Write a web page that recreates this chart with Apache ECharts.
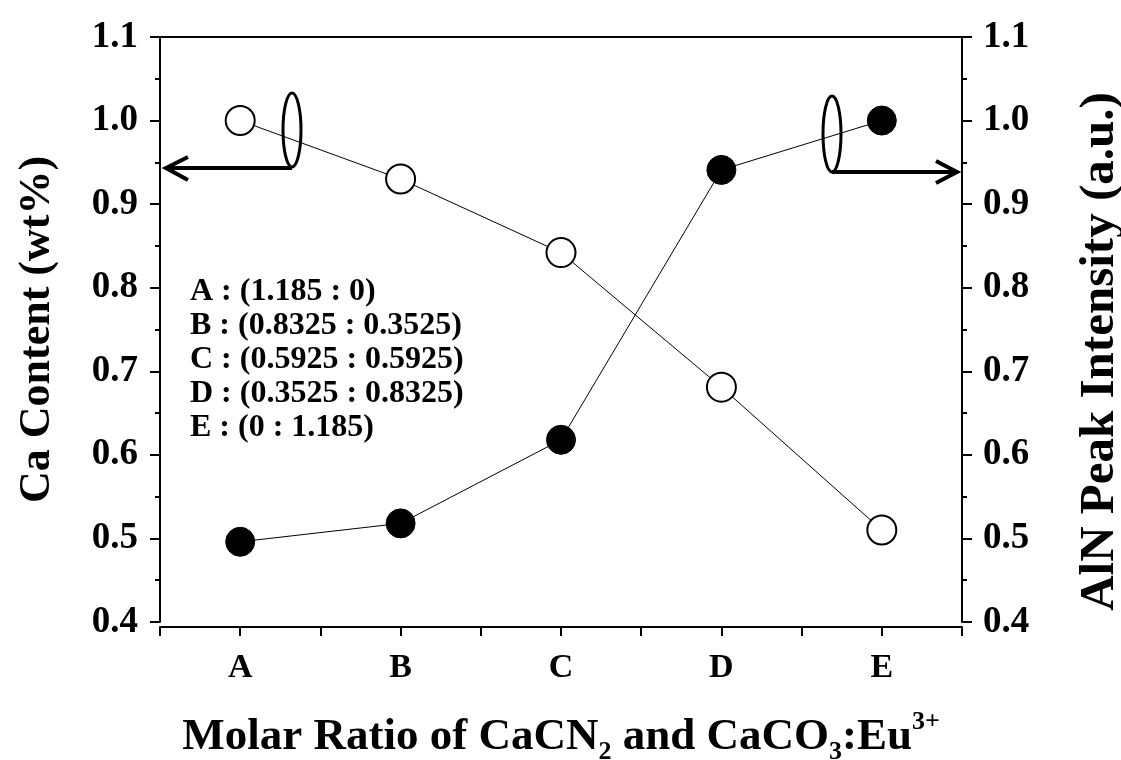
<!DOCTYPE html>
<html>
<head>
<meta charset="utf-8">
<script src="https://cdn.jsdelivr.net/npm/echarts@6.0.0/dist/echarts.min.js"></script>
<style>
html, body { margin: 0; padding: 0; background: #fff; }
#main { width: 1121px; height: 760px; }
</style>
</head>
<body>
<div id="main"></div>
<script>
// 数据
var categories = ['A', 'B', 'C', 'D', 'E'];
var caContent = [1.0, 0.93, 0.842, 0.681, 0.51];        // 左轴，空心圆
var alnIntensity = [0.496, 0.518, 0.618, 0.941, 1.0];   // 右轴，实心圆
var yMin = 0.4, yMax = 1.1, yStep = 0.1;
var ratioNotes = [
	'A : (1.185 : 0)',
	'B : (0.8325 : 0.3525)',
	'C : (0.5925 : 0.5925)',
	'D : (0.3525 : 0.8325)',
	'E : (0 : 1.185)'
];

var FONT = '"Liberation Serif", "Times New Roman", serif';

function toPairs(arr) {
	var out = [];
	for (var i = 0; i < arr.length; i++) {
		out.push([i + 1, arr[i]]);
	}
	return out;
}

function yAxisCfg(pos, name, nameSize, gap, labelMargin, namePad) {
	return {
		type: 'value',
		position: pos,
		min: yMin,
		max: yMax,
		interval: yStep,
		name: name,
		nameLocation: 'middle',
		nameRotate: 90,
		nameGap: gap,
		nameTextStyle: { fontFamily: FONT, fontWeight: 'bold', fontSize: nameSize, color: '#000', padding: namePad },
		axisLine: { show: true, lineStyle: { color: '#000', width: 2 } },
		axisTick: { show: true, inside: false, length: 10, lineStyle: { color: '#000', width: 2 } },
		minorTick: { show: true, splitNumber: 2, length: 5, lineStyle: { color: '#000', width: 2 } },
		splitLine: { show: false },
		axisLabel: {
			margin: labelMargin,
			fontFamily: FONT, fontWeight: 'bold', fontSize: 37, color: '#000',
			formatter: function (v) { return v.toFixed(1); }
		}
	};
}

var chart = echarts.init(document.getElementById('main'));

var option = {
	backgroundColor: '#fff',
	animation: false,
	grid: { left: 160, right: 159, top: 37, bottom: 138, containLabel: false, outerBoundsMode: 'none' },
	xAxis: [
		{
			type: 'value',
			position: 'bottom',
			min: 0.5,
			max: 5.5,
			interval: 0.5,
			offset: 5,
			name: '{t|Molar Ratio of CaCN}{sub|2}{t| and CaCO}{sub|3}{t|:Eu}{sup|3+}',
			nameLocation: 'middle',
			nameGap: 82,
			nameTextStyle: {
				color: '#000',
				rich: {
					t: { fontFamily: FONT, fontWeight: 'bold', fontSize: 45, lineHeight: 56, color: '#000' },
					sub: { fontFamily: FONT, fontWeight: 'bold', fontSize: 26, lineHeight: 40, verticalAlign: 'bottom', color: '#000' },
					sup: { fontFamily: FONT, fontWeight: 'bold', fontSize: 26, lineHeight: 34, verticalAlign: 'top', color: '#000' }
				}
			},
			axisLine: { show: true, lineStyle: { color: '#000', width: 2 } },
			axisTick: { show: true, inside: false, length: 9, lineStyle: { color: '#000', width: 2 } },
			splitLine: { show: false },
			axisLabel: {
				margin: 24,
				fontFamily: FONT, fontWeight: 'bold', fontSize: 34, color: '#000',
				formatter: function (v) {
					var r = Math.round(v);
					if (Math.abs(v - r) < 1e-6 && r >= 1 && r <= categories.length) {
						return categories[r - 1];
					}
					return '';
				}
			}
		},
		{
			// 顶部边框
			type: 'value',
			position: 'top',
			min: 0.5,
			max: 5.5,
			axisLine: { show: true, lineStyle: { color: '#000', width: 2 } },
			axisTick: { show: false },
			axisLabel: { show: false },
			splitLine: { show: false }
		}
	],
	yAxis: [
		yAxisCfg('left', 'Ca Content (wt%)', 44, 100, 22, [0, 0, 0, 0]),
		yAxisCfg('right', 'AlN Peak Intensity (a.u.)', 49, 114, 21, [0, 44, 0, 0])
	],
	series: [
		{
			name: 'Ca Content',
			type: 'line',
			xAxisIndex: 0,
			yAxisIndex: 0,
			data: toPairs(caContent),
			symbol: 'circle',
			symbolSize: 29,
			lineStyle: { color: '#000', width: 1 },
			itemStyle: { color: '#fff', borderColor: '#000', borderWidth: 2 },
			z: 3
		},
		{
			name: 'AlN Peak Intensity',
			type: 'line',
			xAxisIndex: 0,
			yAxisIndex: 1,
			data: toPairs(alnIntensity),
			symbol: 'circle',
			symbolSize: 29,
			lineStyle: { color: '#000', width: 1 },
			itemStyle: { color: '#000', borderColor: '#000', borderWidth: 1 },
			z: 3
		}
	],
	graphic: [
		{
			type: 'text',
			x: 190,
			y: 275,
			z: 10,
			style: {
				text: ratioNotes.join('\n'),
				fontFamily: FONT,
				fontWeight: 'bold',
				fontSize: 32,
				lineHeight: 34,
				fill: '#000'
			}
		},
		// 左侧标记：椭圆 + 箭头
		{ type: 'ellipse', z: 10, shape: { cx: 292, cy: 130, rx: 9, ry: 37 }, style: { fill: 'none', stroke: '#000', lineWidth: 3 } },
		{ type: 'line', z: 10, shape: { x1: 292, y1: 168, x2: 166, y2: 168 }, style: { stroke: '#000', lineWidth: 4 } },
		{ type: 'polyline', z: 10, shape: { points: [[188, 157], [166, 168], [188, 180]] }, style: { fill: 'none', stroke: '#000', lineWidth: 4 } },
		// 右侧标记
		{ type: 'ellipse', z: 10, shape: { cx: 832, cy: 134, rx: 9, ry: 38 }, style: { fill: 'none', stroke: '#000', lineWidth: 3 } },
		{ type: 'line', z: 10, shape: { x1: 832, y1: 172, x2: 957, y2: 172 }, style: { stroke: '#000', lineWidth: 4 } },
		{ type: 'polyline', z: 10, shape: { points: [[936, 161], [957, 172], [936, 183]] }, style: { fill: 'none', stroke: '#000', lineWidth: 4 } }
	]
};

chart.setOption(option);
</script>
</body>
</html>
